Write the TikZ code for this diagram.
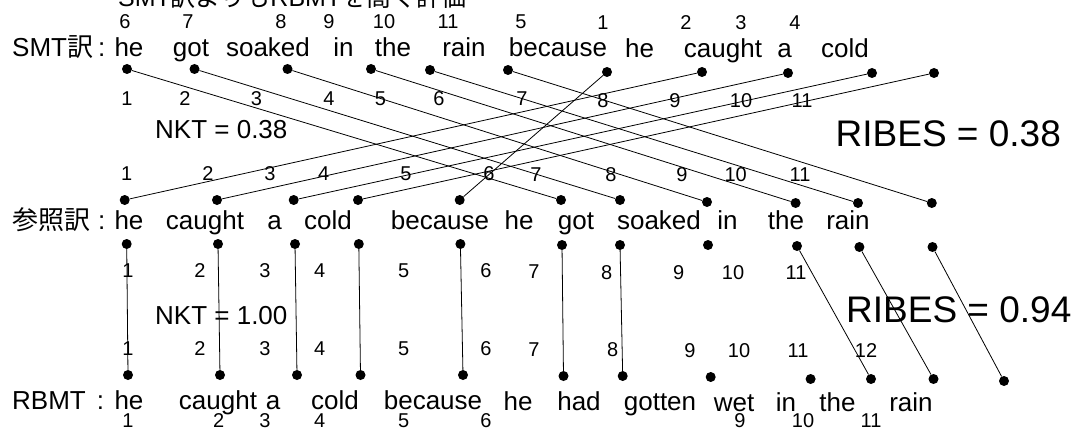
\documentclass[tikz,border=0pt]{standalone}
\usepackage{fontspec}
\setmainfont{Liberation Sans}
\newfontfamily\jpfont{Noto Sans CJK JP}
\tikzset{
  palabra/.style={anchor=base, inner sep=0pt, font=\fontsize{26}{30}\selectfont},
  rotulo/.style={palabra, anchor=base west},
  indice/.style={anchor=base, inner sep=0pt, font=\fontsize{20}{24}\selectfont},
  punto/.style={circle, fill=black, inner sep=0pt, minimum size=10pt},
  enlace/.style={draw=black, line width=0.8pt},
  metrica/.style={anchor=base west, inner sep=0pt, font=\fontsize{26}{30}\selectfont},
  metricag/.style={metrica, font=\fontsize{37}{42}\selectfont}
}
\begin{document}
\begin{tikzpicture}[x=1pt, y=-1pt]
  \useasboundingbox (0,0) rectangle (1079,428);
  \clip (0,0) rectangle (1079,428);
  \node[rotulo, font=\fontsize{25}{30}\selectfont] (titulo) at (118,7) {SMT{\jpfont 訳よりも}RBMT{\jpfont を高く評価}};

  % SMT
  \node[rotulo] (rsmt) at (12,57) {SMT{\jpfont 訳}\hspace{5pt}:};
  \node[palabra] (ws1) at (129,57) {he};
  \node[palabra] (ws2) at (191,57) {got};
  \node[palabra] (ws3) at (268,57) {soaked};
  \node[palabra] (ws4) at (343.5,57) {in};
  \node[palabra] (ws5) at (393,57) {the};
  \node[palabra] (ws6) at (464,57) {rain};
  \node[palabra] (ws7) at (558,57) {because};
  \node[palabra] (ws8) at (639.5,58) {he};
  \node[palabra] (ws9) at (723,58) {caught};
  \node[palabra] (ws10) at (784.5,58) {a};
  \node[palabra] (ws11) at (845,58) {cold};
  \node[indice] (sa1) at (125,29) {6};
  \node[indice] (sa2) at (188,29) {7};
  \node[indice] (sa3) at (281,29) {8};
  \node[indice] (sa4) at (329,29) {9};
  \node[indice] (sa5) at (384,29) {10};
  \node[indice] (sa6) at (448,29) {11};
  \node[indice] (sa7) at (521,29) {5};
  \node[indice] (sa8) at (603,30) {1};
  \node[indice] (sa9) at (686,30) {2};
  \node[indice] (sa10) at (741,30) {3};
  \node[indice] (sa11) at (795,30) {4};
  \node[punto] (ps1) at (127,69) {};
  \node[punto] (ps2) at (194.5,69) {};
  \node[punto] (ps3) at (287.5,69) {};
  \node[punto] (ps4) at (371,69) {};
  \node[punto] (ps5) at (430,70) {};
  \node[punto] (ps6) at (508,70) {};
  \node[punto] (ps7) at (607,72) {};
  \node[punto] (ps8) at (702,72) {};
  \node[punto] (ps9) at (788,73) {};
  \node[punto] (ps10) at (872,73) {};
  \node[punto] (ps11) at (934,73) {};
  \node[indice] (sb1) at (127,105) {1};
  \node[indice] (sb2) at (185,105) {2};
  \node[indice] (sb3) at (256.5,105) {3};
  \node[indice] (sb4) at (329,105) {4};
  \node[indice] (sb5) at (380.5,105) {5};
  \node[indice] (sb6) at (439,105) {6};
  \node[indice] (sb7) at (522,106) {7};
  \node[indice] (sb8) at (603,107) {8};
  \node[indice] (sb9) at (675,107) {9};
  \node[indice] (sb10) at (741,107) {10};
  \node[indice] (sb11) at (802,107) {11};
  \node[metrica] (nkt1) at (155,138) {NKT = 0.38};
  \node[metricag] (ribes1) at (835.5,146) {RIBES = 0.38};

  % referencia
  \node[indice] (ra1) at (126.7,180) {1};
  \node[indice] (ra2) at (208,180) {2};
  \node[indice] (ra3) at (270,180) {3};
  \node[indice] (ra4) at (323.7,180) {4};
  \node[indice] (ra5) at (406,180) {5};
  \node[indice] (ra6) at (489,180) {6};
  \node[indice] (ra7) at (536,181) {7};
  \node[indice] (ra8) at (611,181) {8};
  \node[indice] (ra9) at (682,181) {9};
  \node[indice] (ra10) at (735.7,181) {10};
  \node[indice] (ra11) at (800,181) {11};
  \node[punto] (pr1) at (124.7,200) {};
  \node[punto] (pr2) at (217,200) {};
  \node[punto] (pr3) at (293.7,200) {};
  \node[punto] (pr4) at (358,200) {};
  \node[punto] (pr5) at (459.7,200) {};
  \node[punto] (pr6) at (561,200) {};
  \node[punto] (pr7) at (620,200) {};
  \node[punto] (pr8) at (707,202) {};
  \node[punto] (pr9) at (795.6,203) {};
  \node[punto] (pr10) at (858,203) {};
  \node[punto] (pr11) at (931.8,203) {};
  \node[rotulo] (rref) at (12,229) {{\jpfont 参照訳}\hspace{8pt}:};
  \node[palabra] (wr1) at (129,229) {he};
  \node[palabra] (wr2) at (205,229) {caught};
  \node[palabra] (wr3) at (274.6,229) {a};
  \node[palabra] (wr4) at (328,229) {cold};
  \node[palabra] (wr5) at (440,229) {because};
  \node[palabra] (wr6) at (519,229) {he};
  \node[palabra] (wr7) at (576,229) {got};
  \node[palabra] (wr8) at (659,229) {soaked};
  \node[palabra] (wr9) at (727.5,229) {in};
  \node[palabra] (wr10) at (786,229) {the};
  \node[palabra] (wr11) at (848,229) {rain};
  \node[punto] (pq1) at (126.7,244) {};
  \node[punto] (pq2) at (218,244) {};
  \node[punto] (pq3) at (295,244) {};
  \node[punto] (pq4) at (358.8,244) {};
  \node[punto] (pq5) at (460.4,244) {};
  \node[punto] (pq6) at (562,245) {};
  \node[punto] (pq7) at (620,245) {};
  \node[punto] (pq8) at (708,245) {};
  \node[punto] (pq9) at (797,246) {};
  \node[punto] (pq10) at (859.4,247) {};
  \node[punto] (pq11) at (932.5,247) {};
  \node[indice] (rb1) at (128,277) {1};
  \node[indice] (rb2) at (200,277) {2};
  \node[indice] (rb3) at (265,277) {3};
  \node[indice] (rb4) at (319.6,277) {4};
  \node[indice] (rb5) at (403.6,277) {5};
  \node[indice] (rb6) at (486,277) {6};
  \node[indice] (rb7) at (534,278) {7};
  \node[indice] (rb8) at (606.6,279) {8};
  \node[indice] (rb9) at (678.6,279) {9};
  \node[indice] (rb10) at (733,279) {10};
  \node[indice] (rb11) at (796,279) {11};
  \node[metrica] (nkt2) at (155,324) {NKT = 1.00};
  \node[metricag] (ribes2) at (846,322) {RIBES = 0.94};

  % RBMT
  \node[indice] (ma1) at (128,355) {1};
  \node[indice] (ma2) at (200,355) {2};
  \node[indice] (ma3) at (265,355) {3};
  \node[indice] (ma4) at (319.6,355) {4};
  \node[indice] (ma5) at (403.6,355) {5};
  \node[indice] (ma6) at (486,355) {6};
  \node[indice] (ma7) at (534,356) {7};
  \node[indice] (ma8) at (612.7,356) {8};
  \node[indice] (ma9) at (690,357) {9};
  \node[indice] (ma10) at (739,357) {10};
  \node[indice] (ma11) at (798,357) {11};
  \node[indice] (ma12) at (866,357) {12};
  \node[punto] (pm1) at (128,375) {};
  \node[punto] (pm2) at (220,375) {};
  \node[punto] (pm3) at (297,375) {};
  \node[punto] (pm4) at (360.5,375) {};
  \node[punto] (pm5) at (463,375) {};
  \node[punto] (pm6) at (563.5,376) {};
  \node[punto] (pm7) at (622.7,376) {};
  \node[punto] (pm8) at (710.7,377) {};
  \node[punto] (pm9) at (810.6,379) {};
  \node[punto] (pm10) at (871,379) {};
  \node[punto] (pm11) at (933.5,379) {};
  \node[punto] (pm12) at (1004,381) {};
  \node[rotulo] (rrbmt) at (12,409) {RBMT\hspace{11pt}:};
  \node[palabra] (wm1) at (129,409) {he};
  \node[palabra] (wm2) at (218,409) {caught};
  \node[palabra] (wm3) at (273,409) {a};
  \node[palabra] (wm4) at (335,409) {cold};
  \node[palabra] (wm5) at (433,409) {because};
  \node[palabra] (wm6) at (518,410) {he};
  \node[palabra] (wm7) at (579,410) {had};
  \node[palabra] (wm8) at (660,410) {gotten};
  \node[palabra] (wm9) at (734,411) {wet};
  \node[palabra] (wm10) at (786,411) {in};
  \node[palabra] (wm11) at (837.5,411) {the};
  \node[palabra] (wm12) at (911,411) {rain};
  \node[indice] (mb1) at (128,427) {1};
  \node[indice] (mb2) at (218.7,427) {2};
  \node[indice] (mb3) at (265,427) {3};
  \node[indice] (mb4) at (319.6,427) {4};
  \node[indice] (mb5) at (403.6,427) {5};
  \node[indice] (mb6) at (486,427) {6};
  \node[indice] (mb9) at (740,427) {9};
  \node[indice] (mb10) at (803,427) {10};
  \node[indice] (mb11) at (871,427) {11};

  % SMT -> referencia
  \draw[enlace] (ps1) -- (pr6);
  \draw[enlace] (ps2) -- (pr7);
  \draw[enlace] (ps3) -- (pr8);
  \draw[enlace] (ps4) -- (pr9);
  \draw[enlace] (ps5) -- (pr10);
  \draw[enlace] (ps6) -- (pr11);
  \draw[enlace] (ps7) -- (pr5);
  \draw[enlace] (ps8) -- (pr1);
  \draw[enlace] (ps9) -- (pr2);
  \draw[enlace] (ps10) -- (pr3);
  \draw[enlace] (ps11) -- (pr4);
  % referencia -> RBMT
  \draw[enlace] (pq1) -- (pm1);
  \draw[enlace] (pq2) -- (pm2);
  \draw[enlace] (pq3) -- (pm3);
  \draw[enlace] (pq4) -- (pm4);
  \draw[enlace] (pq5) -- (pm5);
  \draw[enlace] (pq6) -- (pm6);
  \draw[enlace] (pq7) -- (pm7);
  \draw[enlace] (pq9) -- (pm10);
  \draw[enlace] (pq10) -- (pm11);
  \draw[enlace] (pq11) -- (pm12);
\end{tikzpicture}
\end{document}
